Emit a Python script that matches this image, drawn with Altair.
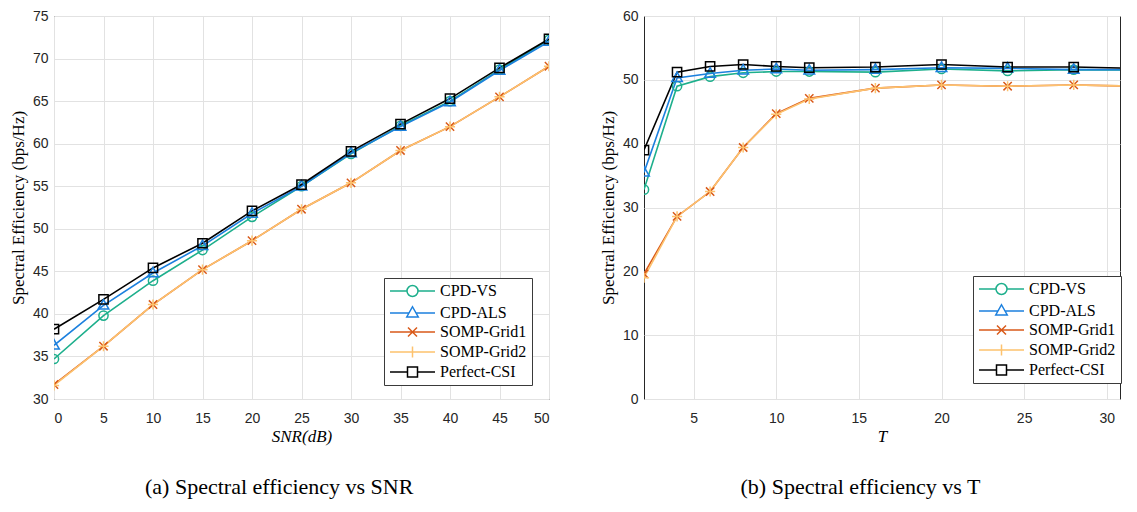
import altair as alt
import pandas as pd

# ---------------- data ----------------
series_names = ["CPD-VS", "CPD-ALS", "SOMP-Grid1", "SOMP-Grid2", "Perfect-CSI"]
series_colors = ["#1DAF8C", "#1C80DE", "#D95A1A", "#FDC26E", "#000000"]

snr_db = [0, 5, 10, 15, 20, 25, 30, 35, 40, 45, 50]
se_snr_cpdvs = [34.7, 39.8, 43.9, 47.5, 51.4, 55.0, 58.8, 62.1, 65.0, 68.7, 72.2]
se_snr_cpdals = [36.3, 41.0, 44.8, 48.0, 51.8, 55.0, 58.9, 62.0, 64.9, 68.6, 72.0]
se_snr_grid1 = [31.7, 36.2, 41.1, 45.2, 48.6, 52.3, 55.4, 59.2, 62.0, 65.5, 69.1]
se_snr_grid2 = [31.6, 36.2, 41.1, 45.2, 48.6, 52.3, 55.4, 59.2, 62.0, 65.5, 69.1]
se_snr_perfect = [38.2, 41.7, 45.4, 48.3, 52.1, 55.2, 59.1, 62.3, 65.3, 68.9, 72.3]

t_vals = [2, 4, 6, 8, 10, 12, 16, 20, 24, 28, 32]
se_t_cpdvs = [32.8, 49.0, 50.5, 51.1, 51.3, 51.3, 51.2, 51.7, 51.4, 51.6, 51.5]
se_t_cpdals = [35.5, 50.3, 51.0, 51.5, 51.7, 51.5, 51.6, 51.9, 51.8, 51.6, 51.6]
se_t_grid1 = [19.6, 28.6, 32.5, 39.4, 44.7, 47.1, 48.7, 49.2, 49.0, 49.2, 49.0]
se_t_grid2 = [19.0, 28.6, 32.5, 39.4, 44.6, 47.0, 48.7, 49.2, 49.0, 49.2, 49.0]
se_t_perfect = [39.0, 51.2, 52.1, 52.4, 52.1, 51.9, 52.0, 52.4, 52.0, 52.0, 51.8]

snr_ticks = [0, 5, 10, 15, 20, 25, 30, 35, 40, 45, 50]
snr_yticks = [30, 35, 40, 45, 50, 55, 60, 65, 70, 75]
t_ticks = [5, 10, 15, 20, 25, 30]
t_yticks = [0, 10, 20, 30, 40, 50, 60]

# marker shapes (custom paths in the [-1,1] box)
marker_paths = [
    "M-1,0A1,1 0 1,1 1,0A1,1 0 1,1 -1,0Z",
    "M0,-1.25L1.15,0.8L-1.15,0.8Z",
    "M-0.9,-0.9L0.9,0.9M-0.9,0.9L0.9,-0.9",
    "M-1.1,0L1.1,0M0,-1.1L0,1.1",
    "M-1,-1L1,-1L1,1L-1,1Z",
]
# legend symbols: line segment + marker
legend_paths = [
    "M-4.5,0L-1.1,0M1.1,0L4.5,0M-1.1,0A1.1,1.1 0 1,1 1.1,0A1.1,1.1 0 1,1 -1.1,0Z",
    "M-4.5,0L-0.7,0M0.7,0L4.5,0M0,-1.25L1.15,0.8L-1.15,0.8Z",
    "M-4.5,0L4.5,0M-0.9,-0.9L0.9,0.9M-0.9,0.9L0.9,-0.9",
    "M-4.5,0L4.5,0M0,-1.1L0,1.1",
    "M-4.5,0L-1,0M1,0L4.5,0M-1,-1L1,-1L1,1L-1,1Z",
]


def long_df(xs, cols):
    rows = []
    for name, vals in zip(series_names, cols):
        for x, v in zip(xs, vals):
            rows.append({"x": x, "se": v, "series": name})
    return pd.DataFrame(rows)


df_snr = long_df(snr_db, [se_snr_cpdvs, se_snr_cpdals, se_snr_grid1, se_snr_grid2, se_snr_perfect])
df_t = long_df(t_vals, [se_t_cpdvs, se_t_cpdals, se_t_grid1, se_t_grid2, se_t_perfect])

AX_COLOR = "#262626"


def make_legend(lx, ly):
    return alt.Legend(
        title=None,
        orient="none",
        legendX=lx,
        legendY=ly,
        fillColor="white",
        strokeColor="#3a3a3a",
        padding=5,
        rowPadding=3,
        labelFont="Liberation Serif",
        labelFontSize=16,
        labelColor="black",
        symbolSize=100,
        symbolStrokeWidth=1.5,
        symbolOffset=15.5,
        labelOffset=19.5,
        symbolOpacity=1,
    )


def panel(df, xdom, xvals, ydom, yvals, xtitle, caption, width, height, lx, ly):
    color_scale = alt.Scale(domain=series_names, range=series_colors)
    leg = make_legend(lx, ly)
    x_enc = alt.X("x:Q", scale=alt.Scale(domain=xdom, nice=False, zero=False),
                  axis=alt.Axis(values=xvals, title=xtitle, labelPadding=12,
                                titlePadding=3, titleFontStyle="italic",
                                titleFontSize=17))
    y_enc = alt.Y("se:Q", scale=alt.Scale(domain=ydom, nice=False, zero=False),
                  axis=alt.Axis(values=yvals, title="Spectral Efficiency (bps/Hz)",
                                labelPadding=6, titlePadding=5))
    color_enc = alt.Color("series:N", scale=color_scale, legend=leg)
    base = alt.Chart(df)
    layers = [
        base.mark_line(strokeWidth=1.6, clip=True).encode(x=x_enc, y=y_enc, color=color_enc)
    ]
    for name, path in zip(series_names, marker_paths):
        layers.append(
            base.transform_filter(alt.datum.series == name)
            .mark_point(filled=False, size=85, strokeWidth=1.5, opacity=1,
                        shape=path, clip=True)
            .encode(x=x_enc, y=y_enc, color=color_enc)
        )
    # legend-only layer (no data rows): gives the legend its line+marker symbols
    layers.append(
        base.transform_filter("false")
        .mark_point(filled=False, strokeWidth=1.5)
        .encode(
            x=x_enc, y=y_enc, color=color_enc,
            shape=alt.Shape("series:N",
                            scale=alt.Scale(domain=series_names, range=legend_paths),
                            legend=leg),
        )
    )
    return alt.layer(*layers).properties(
        width=width,
        height=height,
        title=alt.TitleParams(
            text=caption, orient="bottom", anchor="middle", frame="bounds",
            font="Liberation Serif", fontSize=22, fontWeight="normal",
            color="black", offset=33,
        ),
    )


left = panel(df_snr, [0, 50], snr_ticks, [30, 75], snr_yticks, "SNR(dB)",
             "(a) Spectral efficiency vs SNR", 495, 383, 330, 262)
right = panel(df_t, [2, 30.8], t_ticks, [0, 60], t_yticks, "T",
              "(b) Spectral efficiency vs T", 476, 383, 329, 260)

chart = (
    alt.hconcat(left, right, spacing=95, bounds="flush")
    .resolve_scale(color="independent", shape="independent")
    .properties(padding={"left": 0, "top": 0, "right": 0, "bottom": 0},
                background="white")
    .configure_view(stroke=AX_COLOR, strokeWidth=1)
    .configure_axis(
        grid=True,
        gridColor="#E2E2E2",
        gridWidth=1,
        domain=False,
        ticks=False,
        labelFont="Liberation Sans",
        labelFontSize=14,
        labelColor=AX_COLOR,
        titleFont="Liberation Serif",
        titleFontSize=17,
        titleFontWeight="normal",
        titleColor="black",
    )
)

chart.save("out.html", embed_options={"renderer": "svg", "actions": False})
